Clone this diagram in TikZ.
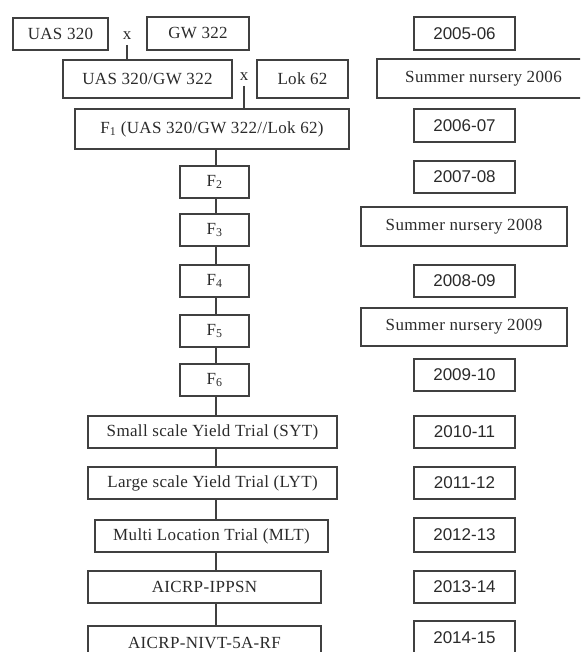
\documentclass[tikz,border=0pt]{standalone}
\usepackage{fontspec}
\setmainfont{Liberation Serif}[LetterSpace=2]
\newfontfamily\yearfont{Liberation Sans}
\definecolor{lineC}{HTML}{404040}
\definecolor{textC}{HTML}{2a2a2a}
\tikzset{
  box/.style={draw=lineC, line width=1.1pt, rectangle, inner sep=0pt, outer sep=0pt,
              text=textC, font=\fontsize{17}{19}\selectfont, align=center},
  yearbox/.style={box, font=\yearfont\fontsize{17}{19}\selectfont},
  crosslbl/.style={inner sep=0pt, outer sep=0pt, text=textC, font=\fontsize{17}{19}\selectfont},
  conn/.style={draw=lineC, line width=1.1pt}
}
\begin{document}
\begin{tikzpicture}[x=1pt,y=-1pt]
\useasboundingbox (0,0) rectangle (580,652);
\clip (0,0) rectangle (580,652);
% left column
\node[box, minimum width=95pt, minimum height=32pt] (uas) at (60.5,34) {UAS 320};
\node[crosslbl] (x1) at (127,36) {x};
\node[box, minimum width=102pt, minimum height=33pt] (gw) at (198,33.5) {GW 322};
\node[box, minimum width=169pt, minimum height=38pt] (cross) at (147.5,79) {UAS 320/GW 322};
\node[crosslbl] (x2) at (244,77) {x};
\node[box, minimum width=91pt, minimum height=38pt] (lok) at (302.5,79) {Lok 62};
\node[box, minimum width=274pt, minimum height=40pt] (f1) at (212,129) {F\textsubscript{1} (UAS 320/GW 322//Lok 62)};
\node[box, minimum width=69pt, minimum height=32pt] (f2) at (214.5,182) {F\textsubscript{2}};
\node[box, minimum width=69pt, minimum height=32pt] (f3) at (214.5,230) {F\textsubscript{3}};
\node[box, minimum width=69pt, minimum height=32pt] (f4) at (214.5,281) {F\textsubscript{4}};
\node[box, minimum width=69pt, minimum height=32pt] (f5) at (214.5,331) {F\textsubscript{5}};
\node[box, minimum width=69pt, minimum height=32pt] (f6) at (214.5,380) {F\textsubscript{6}};
\node[box, minimum width=249pt, minimum height=32pt] (syt) at (212.5,432) {Small scale Yield Trial (SYT)};
\node[box, minimum width=249pt, minimum height=32pt] (lyt) at (212.5,483) {Large scale Yield Trial (LYT)};
\node[box, minimum width=233pt, minimum height=32pt] (mlt) at (211.5,536) {Multi Location Trial (MLT)};
\node[box, minimum width=233pt, minimum height=32pt] (ippsn) at (204.5,587) {AICRP-IPPSN};
\node[box, minimum width=233pt, minimum height=34pt] (nivt) at (204.5,643) {AICRP-NIVT-5A-RF};
% connectors
\coordinate (spine) at (216,0);
\draw[conn] ([yshift=-5pt]x1.south) -- (x1.south |- cross.north);
\draw[conn] ([yshift=-5pt]x2.south) -- (x2.south |- f1.north);
\draw[conn] (f1.south -| spine) -- (f2.north -| spine);
\draw[conn] (f2.south -| spine) -- (f3.north -| spine);
\draw[conn] (f3.south -| spine) -- (f4.north -| spine);
\draw[conn] (f4.south -| spine) -- (f5.north -| spine);
\draw[conn] (f5.south -| spine) -- (f6.north -| spine);
\draw[conn] (f6.south -| spine) -- (syt.north -| spine);
\draw[conn] (syt.south -| spine) -- (lyt.north -| spine);
\draw[conn] (lyt.south -| spine) -- (mlt.north -| spine);
\draw[conn] (mlt.south -| spine) -- (ippsn.north -| spine);
\draw[conn] (ippsn.south -| spine) -- (nivt.north -| spine);
% right column
\node[yearbox, minimum width=101pt, minimum height=33pt] (y1) at (464.5,33.5) {2005-06};
\node[box, minimum width=213pt, minimum height=39pt] (sn6) at (483.5,78.5) {Summer nursery 2006};
\node[yearbox, minimum width=101pt, minimum height=33pt] (y2) at (464.5,125.5) {2006-07};
\node[yearbox, minimum width=101pt, minimum height=32pt] (y3) at (464.5,177) {2007-08};
\node[box, minimum width=206pt, minimum height=39pt] (sn8) at (464,226.5) {Summer nursery 2008};
\node[yearbox, minimum width=101pt, minimum height=32pt] (y4) at (464.5,281) {2008-09};
\node[box, minimum width=206pt, minimum height=38pt] (sn9) at (464,327) {Summer nursery 2009};
\node[yearbox, minimum width=101pt, minimum height=32pt] (y5) at (464.5,375) {2009-10};
\node[yearbox, minimum width=101pt, minimum height=32pt] (y6) at (464.5,432) {2010-11};
\node[yearbox, minimum width=101pt, minimum height=32pt] (y7) at (464.5,483) {2011-12};
\node[yearbox, minimum width=101pt, minimum height=34pt] (y8) at (464.5,535) {2012-13};
\node[yearbox, minimum width=101pt, minimum height=32pt] (y9) at (464.5,587) {2013-14};
\node[yearbox, minimum width=101pt, minimum height=34pt] (y10) at (464.5,638) {2014-15};
\end{tikzpicture}
\end{document}
